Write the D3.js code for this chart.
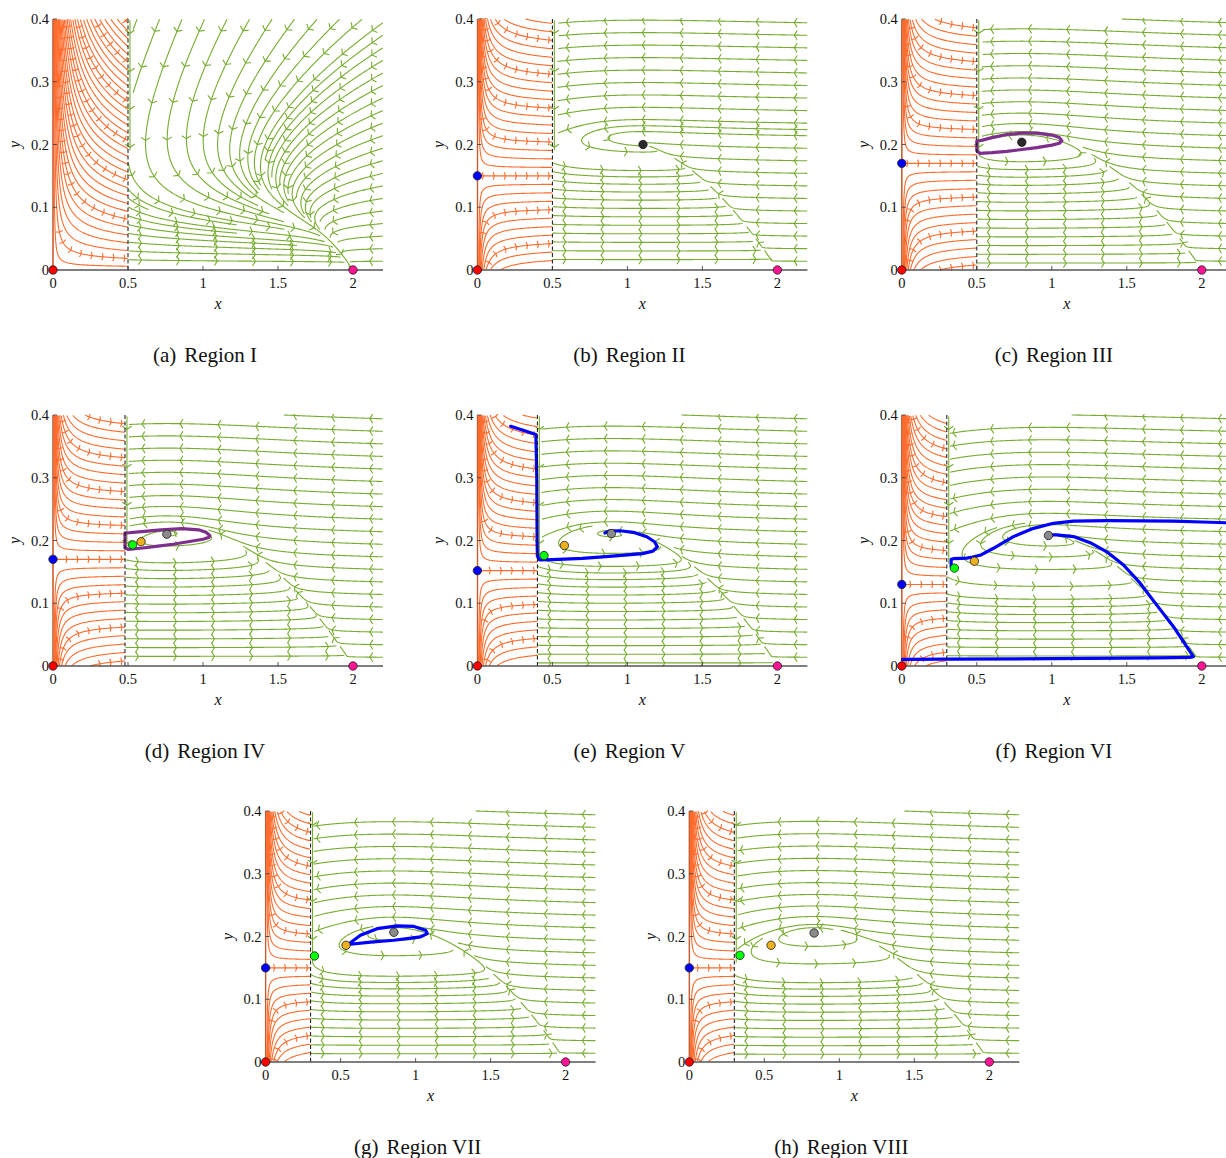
<!DOCTYPE html>
<html>
<head>
<meta charset="utf-8">
<script src="https://d3js.org/d3.v7.min.js"></script>
<style>
  body { margin: 0; background: #fff; }
  text { font-family: "Liberation Serif", "Times New Roman", serif; fill: #111; }
</style>
</head>
<body>
<div id="chart"></div>
<script>
// ---------- values ----------
const panelTags   = ["a", "b", "c", "d", "e", "f", "g", "h"];
const regionNames = ["I", "II", "III", "IV", "V", "VI", "VII", "VIII"];
const thresholds  = [0.5, 0.5, 0.5, 0.48, 0.4, 0.3, 0.3, 0.3];
const blueY       = [0, 0.15, 0.17, 0.17, 0.152, 0.13, 0.15, 0.15];   // 0 = no point on the y axis
const greyPts     = [null, [1.104, 0.2], [0.8, 0.2036], [0.759, 0.21], [0.893, 0.211], [0.978, 0.208], [0.855, 0.2067], [0.832, 0.2056]];
const orangePts   = [null, null, null, [0.587, 0.198], [0.58, 0.192], [0.484, 0.167], [0.536, 0.186], [0.545, 0.186]];
const greenPts    = [null, null, null, [0.531, 0.193], [0.444, 0.176], [0.351, 0.156], [0.326, 0.169], [0.338, 0.17]];
const xTicks = [0, 0.5, 1, 1.5, 2];
const yTicks = [0, 0.1, 0.2, 0.3, 0.4];

// rates of the two vector fields used for the stream lines
const predRate  = [1.2, 0.5, 0.5, 0.5, 0.5, 0.5, 0.5, 0.5];
const predMort  = [0.27, null, null, null, null, null, null, null];  // null -> from the grey point
const predSelf  = [1.2, 0, 0, 0, 0, 0, 0, 0];
const leftRate  = [0.16, 0.02, 0.02, 0.02, 0.02, 0.02, 0.02, 0.02];
const leftPower = [1.5, 2, 2, 2, 2, 2, 2, 2];

// highlighted orbits
const purpleC = [[0.5,0.206],[0.5,0.19],[0.52,0.186],[0.6,0.187],[0.7,0.189],[0.8,0.192],[0.9,0.195],[1.0,0.199],[1.05,0.202],[1.067,0.206],[1.05,0.211],[1.0,0.215],[0.9,0.218],[0.8,0.218],[0.7,0.216],[0.6,0.211],[0.52,0.206],[0.5,0.206]];
const purpleD = [[0.48,0.212],[0.48,0.188],[0.5,0.186],[0.6,0.188],[0.7,0.191],[0.8,0.194],[0.9,0.198],[1.0,0.202],[1.04,0.205],[1.045,0.208],[1.02,0.213],[0.97,0.217],[0.86,0.219],[0.72,0.217],[0.59,0.214],[0.49,0.212],[0.48,0.212]];
const blueE = [[0.222,0.382],[0.3,0.376],[0.39,0.369],[0.396,0.3],[0.398,0.2],[0.4,0.175],[0.415,0.169],[0.5,0.1695],[0.7,0.1715],[0.9,0.175],[1.1,0.179],[1.17,0.183],[1.2,0.19],[1.18,0.198],[1.13,0.206],[1.04,0.213],[0.95,0.2155],[0.88,0.215],[0.85,0.212]];
const blueF1 = [[2.2,0.228],[2.0,0.2295],[1.811,0.231],[1.367,0.2317],[1.144,0.231],[1.011,0.2274],[0.878,0.2194],[0.744,0.2062],[0.611,0.1876],[0.522,0.1764],[0.471,0.1737],[0.433,0.172],[0.344,0.171],[0.329,0.17],[0.329,0.158]];
const blueF2 = [[0,0.0106],[0.3,0.011],[1.0,0.0117],[1.7,0.0128],[1.92,0.0138],[1.944,0.0149],[1.811,0.0627],[1.7,0.097],[1.589,0.132],[1.478,0.161],[1.367,0.182],[1.256,0.1966],[1.144,0.2062],[1.033,0.209],[0.985,0.209]];
const blueG = [[0.536,0.186],[0.565,0.19],[0.632,0.202],[0.743,0.2125],[0.877,0.2168],[0.989,0.216],[1.067,0.21],[1.078,0.2046],[1.033,0.1993],[0.855,0.194],[0.7,0.191],[0.565,0.1876],[0.536,0.186]];
const orbits = { c: [purpleC], d: [purpleD], e: [blueE], f: [blueF1, blueF2], g: [blueG] };

// ---------- layout / style ----------
const W = 1226, H = 1158;
const plotW = 330, plotH = 251;
const K = 2, HH = 3.33;
const cell = 4;
const cGreen = "#77ac30", cOrange = "#ff6b2c";
const orbitColor = { c: "#7e2f8e", d: "#7e2f8e", e: "#0000ff", f: "#0000ff", g: "#0000ff" };

const svg = d3.select("#chart").append("svg").attr("width", W).attr("height", H);

panelTags.forEach((t, i) => drawPanel(i));

function drawPanel(i) {
  const tag = panelTags[i];
  const row = Math.floor(i / 3);
  const ox = i < 6 ? 53 + (i % 3) * 424.4 : 265.6 + (i - 6) * 423.7;
  const oy = 270 + row * 396;
  const x = d3.scaleLinear().domain([0, 2.2]).range([ox, ox + plotW]);
  const y = d3.scaleLinear().domain([0, 0.4]).range([oy, oy - plotH]);
  const SX = plotW / 2.2, SY = plotH / 0.4;

  const xc = thresholds[i], grey = greyPts[i], L = blueY[i], s = leftRate[i], pw = leftPower[i];
  const eps = predRate[i], q = predSelf[i];
  const aP = grey ? (1 - grey[0] / K) * (1 + HH * grey[0]) / grey[1] : 10.5;
  const mu = predMort[i] != null ? predMort[i] : grey[0] / (1 + HH * grey[0]);

  const right = (u, v) => [u * (1 - u / K) - aP * u * v / (1 + HH * u), eps * v * (u / (1 + HH * u) - mu - q * v)];
  const left = (u, v) => [Math.pow(u, pw) * (1 - u / K), s * (L - v)];
  const Fn = u => (1 - u / K) * (1 + HH * u) / aP;

  const g = svg.append("g");
  g.append("clipPath").attr("id", "clip" + i).append("rect")
    .attr("x", ox - 1).attr("y", oy - plotH - 1).attr("width", plotW + 2).attr("height", plotH + 2);
  const plot = g.append("g").attr("clip-path", "url(#clip" + i + ")");

  // integration helpers (unit pixel steps)
  function stepv(f, u, v, dir) {
    const d = f(u, v), n = Math.hypot(d[0] * SX, d[1] * SY);
    if (!(n > 1e-12)) return null;
    return [dir * d[0] / n, dir * d[1] / n];
  }
  function rk2(f, u, v, dir) {
    const k1 = stepv(f, u, v, dir); if (!k1) return null;
    const k2 = stepv(f, u + k1[0] / 2, v + k1[1] / 2, dir); if (!k2) return null;
    return [u + k2[0], v + k2[1]];
  }

  // occupancy grid for the right-hand field
  const GW = Math.ceil(plotW / cell) + 2, GH = Math.ceil(plotH / cell) + 2;
  const occ = new Int32Array(GW * GH).fill(-1);
  const occStep = new Int32Array(GW * GH);
  const cellXY = (u, v) => [Math.floor(u * SX / cell), Math.floor(v * SY / cell)];
  const cellOf = (u, v) => {
    const [cx, cy] = cellXY(u, v);
    if (cx < 0 || cy < 0 || cx >= GW || cy >= GH) return -1;
    return cy * GW + cx;
  };
  function free(u, v, r) {
    const [cx, cy] = cellXY(u, v);
    for (let a = -r; a <= r; a++) for (let b = -r; b <= r; b++) {
      const X = cx + a, Y = cy + b;
      if (X < 0 || Y < 0 || X >= GW || Y >= GH) continue;
      if (occ[Y * GW + X] >= 0) return false;
    }
    return true;
  }
  const stops = [[2, 0]];
  if (grey) stops.push(grey);

  let lid = 0;
  function traceGreen(u, v, dir, id) {
    const pts = [[u, v]];
    const c0 = cellOf(u, v);
    if (c0 >= 0 && occ[c0] < 0) { occ[c0] = id; occStep[c0] = 0; }
    for (let k = 1; k < 4000; k++) {
      const nx = rk2(right, u, v, dir);
      if (!nx) break;
      [u, v] = nx;
      if (u < xc || u > 2.2 || v < 0 || v > 0.4) break;
      const c = cellOf(u, v);
      if (c < 0) break;
      const ks = dir * k;
      if (occ[c] >= 0) {
        if (occ[c] !== id) break;
        if (Math.abs(ks - occStep[c]) > 30) break;
      } else { occ[c] = id; occStep[c] = ks; }
      pts.push([u, v]);
      let near = false;
      for (const e of stops) if (Math.hypot((u - e[0]) * SX, (v - e[1]) * SY) < 2.5) near = true;
      if (near) break;
    }
    return pts;
  }
  function markPath(pts, id) {
    for (let k = 0; k < pts.length - 1; k++) {
      const n = Math.ceil(Math.hypot((pts[k+1][0] - pts[k][0]) * SX, (pts[k+1][1] - pts[k][1]) * SY));
      for (let j = 0; j <= n; j++) {
        const t = n ? j / n : 0;
        const c = cellOf(pts[k][0] + t * (pts[k+1][0] - pts[k][0]), pts[k][1] + t * (pts[k+1][1] - pts[k][1]));
        if (c >= 0 && occ[c] < 0) { occ[c] = id; occStep[c] = -100000; }
      }
    }
  }

  const greenLines = [];
  // unstable manifold of the saddle at (2,0)
  const J12 = -aP * 2 / (1 + 2 * HH);
  const lam = eps * (2 / (1 + 2 * HH) - mu);
  if (lam > 0) {
    const vx = -J12 / (-1 - lam), d = 0.0015;
    greenLines.push(traceGreen(2 + vx * d, d, 1, lid++));
  }
  // sliding segment along the threshold
  const yS = Fn(xc), xs = xc + 0.013;
  if (yS < 0.4) {
    const id = lid++;
    const seg = [[xs, 0.398], [xs, yS]];
    markPath(seg, id);
    const cont = traceGreen(xs, yS, 1, id);
    greenLines.push(seg.concat(cont.slice(1)));
  }
  // lines entering at the right edge
  for (let v = 0.394; v > 0.003; v -= 0.02) {
    if (right(2.199, v)[0] < 0 && free(2.199, v, 1)) greenLines.push(traceGreen(2.199, v, 1, lid++));
  }
  // lines entering steeply from the top
  for (let u = xc + 0.06; u < 2.19; u += 0.15) {
    const d = right(u, 0.3995);
    if (d[1] * SY < -0.4 * Math.abs(d[0] * SX) && free(u, 0.3995, 1)) greenLines.push(traceGreen(u, 0.3995, 1, lid++));
  }
  // lines leaving the threshold
  for (let v = Math.min(yS, 0.4) - 0.006; v > 0.003; v -= 0.014) {
    if (right(xc + 0.003, v)[0] > 0 && free(xc + 0.003, v, 1)) greenLines.push(traceGreen(xc + 0.003, v, 1, lid++));
  }
  // fill remaining gaps
  for (let v = 0.39; v > 0.008; v -= 0.012) {
    for (let u = xc + 0.03; u < 2.19; u += 0.04) {
      if (!free(u, v, 3)) continue;
      const id = lid++;
      const f = traceGreen(u, v, 1, id);
      const b = traceGreen(u, v, -1, id);
      greenLines.push(b.reverse().concat(f.slice(1)));
    }
  }

  const line = d3.line().x(d => x(d[0])).y(d => y(d[1]));
  const toPx = pts => pts.map(d => [x(d[0]), y(d[1])]);

  function arrowAt(pp, sTarget) {
    let acc = 0;
    for (let k = 0; k < pp.length - 1; k++) {
      const dx = pp[k+1][0] - pp[k][0], dy = pp[k+1][1] - pp[k][1], l = Math.hypot(dx, dy);
      if (acc + l >= sTarget && l > 0) {
        const t = (sTarget - acc) / l;
        return { p: [pp[k][0] + t * dx, pp[k][1] + t * dy], u: [dx / l, dy / l] };
      }
      acc += l;
    }
    return null;
  }
  function pathLen(pp) {
    let a = 0;
    for (let k = 0; k < pp.length - 1; k++) a += Math.hypot(pp[k+1][0] - pp[k][0], pp[k+1][1] - pp[k][1]);
    return a;
  }
  function chevron(a, len, ang) {
    const c = Math.cos(ang), sn = Math.sin(ang);
    const [px, py] = a.p, [ux, uy] = a.u;
    const p1 = [px - len * (c * ux - sn * uy), py - len * (c * uy + sn * ux)];
    const p2 = [px - len * (c * ux + sn * uy), py - len * (c * uy - sn * ux)];
    return `M${p1[0]},${p1[1]}L${px},${py}L${p2[0]},${p2[1]}`;
  }

  const gG = plot.append("g").attr("fill", "none").attr("stroke", cGreen).attr("stroke-width", 1.1);
  greenLines.forEach(pts => {
    const pp = toPx(pts);
    const total = pathLen(pp);
    if (total < 6) return;
    gG.append("path").attr("d", line(pts));
    for (let st = 13; st < total - 3; st += 38) {
      const a = arrowAt(pp, st);
      if (a) gG.append("path").attr("d", chevron(a, 5.5, 58 * Math.PI / 180));
    }
  });

  // orange side: traced back from the threshold
  const gO = plot.append("g").attr("fill", "none").attr("stroke", cOrange).attr("stroke-width", 1.1);
  const dY = L > 0 ? 0.0135 : 0.0125;
  const base = L > 0 ? L : 0.006;
  const kMin = Math.ceil((0.004 - base) / dY), kMax = Math.floor((0.396 - base) / dY);
  for (let k = kMin; k <= kMax; k++) {
    let u = xc - 1e-4, v = base + k * dY;
    const pts = [[u, v]];
    for (let n = 0; n < 4000; n++) {
      const nx = rk2(left, u, v, -1);
      if (!nx) break;
      [u, v] = nx;
      if (v > 0.4 || v < 0) break;
      pts.push([u, v]);
      if (u < 0.0015) break;
    }
    pts.reverse();
    gO.append("path").attr("d", line(pts));
    const arrowRow = L > 0 ? (((k % 4) + 4) % 4 === 0) : (k % 5 === 1);
    if (arrowRow) {
      const pp = toPx(pts), total = pathLen(pp);
      for (let st = total - 3; st > 0; st -= 11) {
        const a = arrowAt(pp, st);
        if (!a || a.p[0] < x(0.035)) break;
        gO.append("path").attr("d", chevron(a, 3.8, 74 * Math.PI / 180));
      }
    }
  }
  gO.append("path").attr("d", line([[0, 0], [0, 0.4]])).attr("stroke-width", 1.6);

  // threshold
  g.append("line").attr("x1", x(xc)).attr("x2", x(xc)).attr("y1", y(0)).attr("y2", y(0.4))
    .attr("stroke", "#111").attr("stroke-width", 1).attr("stroke-dasharray", "4,2.5");

  // axes
  g.append("line").attr("x1", x(0)).attr("x2", x(2.2)).attr("y1", y(0)).attr("y2", y(0))
    .attr("stroke", "#555").attr("stroke-width", 1.3);
  g.append("line").attr("x1", x(0)).attr("x2", x(0)).attr("y1", y(0)).attr("y2", y(0.4))
    .attr("stroke", "#555").attr("stroke-width", 0.8).attr("opacity", 0.6);
  xTicks.forEach(t => {
    g.append("line").attr("x1", x(t)).attr("x2", x(t)).attr("y1", y(0)).attr("y2", y(0) - 4)
      .attr("stroke", "#333").attr("stroke-width", 0.8);
    g.append("text").attr("x", x(t)).attr("y", y(0) + 18).attr("text-anchor", "middle")
      .attr("font-size", 14.5).text(String(t));
  });
  yTicks.forEach(t => {
    g.append("line").attr("x1", x(0)).attr("x2", x(0) + 4).attr("y1", y(t)).attr("y2", y(t))
      .attr("stroke", "#333").attr("stroke-width", 0.8);
    g.append("text").attr("x", x(0) - 4).attr("y", y(t) + 5).attr("text-anchor", "end")
      .attr("font-size", 14.5).text(String(t));
  });
  g.append("text").attr("x", x(1.1)).attr("y", y(0) + 39).attr("text-anchor", "middle")
    .attr("font-size", 16).attr("font-style", "italic").text("x");
  g.append("text").attr("transform", `translate(${x(0) - 33},${y(0.2)}) rotate(-90)`)
    .attr("text-anchor", "middle").attr("font-size", 16).attr("font-style", "italic").text("y");

  // highlighted orbits
  (orbits[tag] || []).forEach(o => {
    plot.append("path").attr("d", line(o)).attr("fill", "none")
      .attr("stroke", orbitColor[tag]).attr("stroke-width", 3.2)
      .attr("stroke-linejoin", "round").attr("stroke-linecap", "round");
  });

  // equilibria
  const dots = [[[0, 0], "#ff0000"], [[2, 0], "#ff1493"]];
  if (L > 0) dots.push([[0, L], "#0000ff"]);
  if (grey) dots.push([grey, i < 3 ? "#2a2a2a" : "#8a8a8a"]);
  if (orangePts[i]) dots.push([orangePts[i], "#edb120"]);
  if (greenPts[i]) dots.push([greenPts[i], "#00ff00"]);
  dots.forEach(([p, c]) => {
    g.append("circle").attr("cx", x(p[0])).attr("cy", y(p[1])).attr("r", 4.2)
      .attr("fill", c).attr("stroke", "#1a1a1a").attr("stroke-width", 0.8);
  });

  // caption
  const cap = g.append("text").attr("x", ox + 152).attr("y", oy + 92).attr("text-anchor", "middle")
    .attr("font-size", 21);
  cap.append("tspan").text("(" + tag + ")");
  cap.append("tspan").attr("dx", 8).text("Region " + regionNames[i]);
}
</script>
</body>
</html>
